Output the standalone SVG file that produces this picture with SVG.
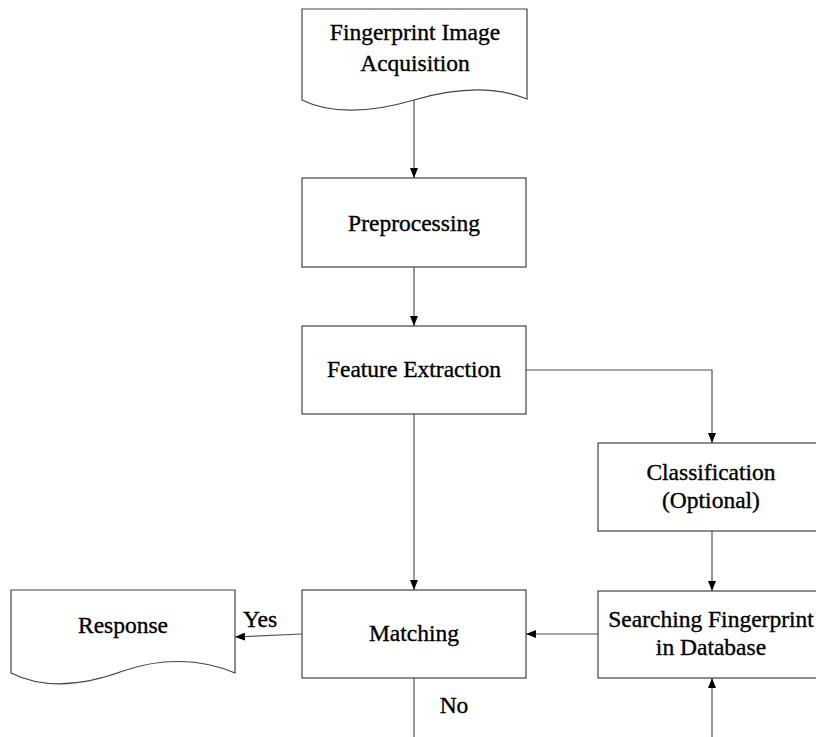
<svg xmlns="http://www.w3.org/2000/svg" width="816" height="737" viewBox="0 0 816 737">
<defs>
<marker id="ah" markerWidth="10" markerHeight="8" refX="10" refY="4" orient="auto" markerUnits="userSpaceOnUse">
<path d="M0,0 L10,4 L0,8 Z" fill="#000"/>
</marker>
<style>
.n{fill:#fff;stroke:#444;stroke-width:1.2}
.t{font-family:"Liberation Serif","Times New Roman",serif;font-size:23.5px;fill:#000;stroke:#000;stroke-width:0.35;text-anchor:middle}
.c{fill:none;stroke:#555;stroke-width:1.2}
</style>
</defs>
<rect width="816" height="737" fill="#fff"/>
<g id="edges">
<line class="c" x1="414" y1="100" x2="414" y2="178" marker-end="url(#ah)"/>
<line class="c" x1="414" y1="267" x2="414" y2="326" marker-end="url(#ah)"/>
<polyline class="c" points="526,370 712,370 712,443" marker-end="url(#ah)"/>
<line class="c" x1="414" y1="414" x2="414" y2="590" marker-end="url(#ah)"/>
<line class="c" x1="712" y1="531" x2="712" y2="591" marker-end="url(#ah)"/>
<line class="c" x1="598" y1="634" x2="526" y2="634" marker-end="url(#ah)"/>
<line class="c" x1="302" y1="634" x2="235" y2="637" marker-end="url(#ah)"/>
<line class="c" x1="414" y1="678" x2="414" y2="737"/>
<line class="c" x1="712" y1="737" x2="712" y2="678" marker-end="url(#ah)"/>
<text class="t" x="260" y="627">Yes</text>
<text class="t" x="454" y="713">No</text>
</g>
<g id="acq">
<path class="n" d="M302,9 H527 V99 C495,86 455,88 414,100 C370,113 330,114 302,100 Z"/>
<text class="t" x="415" y="40">Fingerprint Image</text>
<text class="t" x="415" y="71">Acquisition</text>
</g>
<g id="pre">
<rect class="n" x="302" y="178" width="224" height="89"/>
<text class="t" x="414" y="231">Preprocessing</text>
</g>
<g id="feat">
<rect class="n" x="302" y="326" width="224" height="88"/>
<text class="t" x="414" y="377">Feature Extraction</text>
</g>
<g id="cls">
<rect class="n" x="598" y="443" width="224" height="88"/>
<text class="t" x="711" y="480">Classification</text>
<text class="t" x="711" y="508">(Optional)</text>
</g>
<g id="search">
<rect class="n" x="598" y="591" width="224" height="87"/>
<text class="t" x="711" y="627">Searching Fingerprint</text>
<text class="t" x="711" y="655">in Database</text>
</g>
<g id="match">
<rect class="n" x="302" y="590" width="224" height="88"/>
<text class="t" x="414" y="641">Matching</text>
</g>
<g id="resp">
<path class="n" d="M11,590 H235 V673 C200,658 160,658 123,671 C85,685 45,690 11,673 Z"/>
<text class="t" x="123" y="633">Response</text>
</g>
</svg>
